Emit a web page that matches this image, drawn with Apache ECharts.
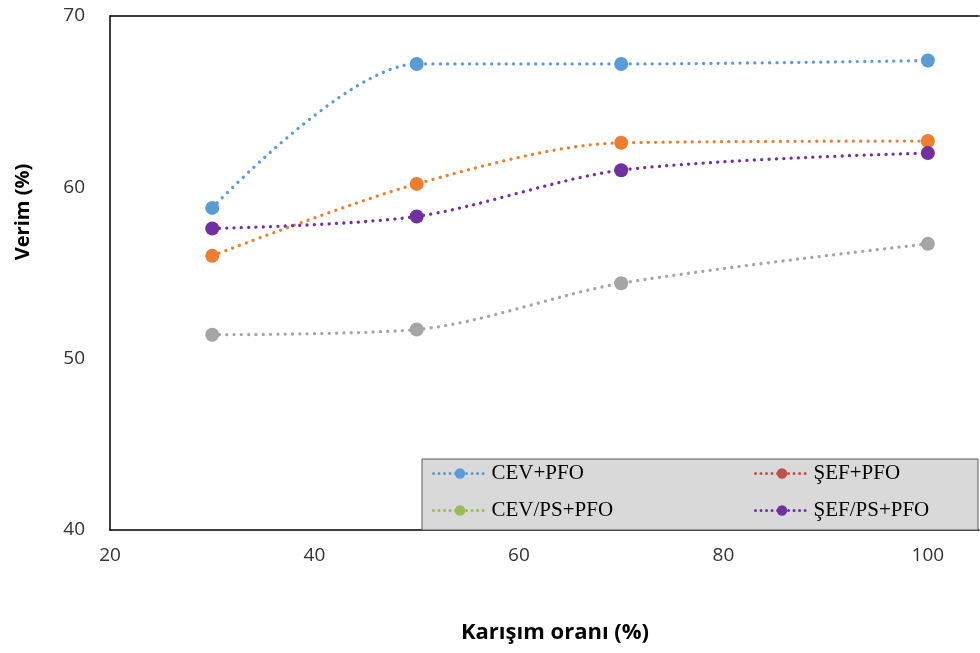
<!DOCTYPE html>
<html>
<head>
<meta charset="utf-8">
<script src="https://cdn.jsdelivr.net/npm/echarts@6/dist/echarts.min.js"></script>
<style>
  html, body { margin: 0; padding: 0; background: #fff; }
  #chart { width: 980px; height: 653px; }
</style>
</head>
<body>
<div id="chart"></div>
<script>
// Mixing ratio (%) on the x axis
const ratios = [30, 50, 70, 100];

// Yield (%) for each blend
const cevPfo = [58.8, 67.2, 67.2, 67.4];
const sefPfo = [56.0, 60.2, 62.6, 62.7];
const cevPsPfo = [51.4, 51.7, 54.4, 56.7];
const sefPsPfo = [57.6, 58.3, 61.0, 62.0];

const seriesNames = ['CEV+PFO', 'ŞEF+PFO', 'CEV/PS+PFO', 'ŞEF/PS+PFO'];
const seriesValues = [cevPfo, sefPfo, cevPsPfo, sefPsPfo];
const lineColors = ['#5B9BD5', '#ED7D31', '#A5A5A5', '#7030A0'];
const legendColors = ['#5B9BD5', '#C0504D', '#9BBB59', '#7030A0'];

const xTicks = [20, 40, 60, 80, 100];
const yTicks = [40, 50, 60, 70];

const chart = echarts.init(document.getElementById('chart'), null, { renderer: 'canvas' });

const series = seriesNames.map((name, i) => ({
  name: name,
  type: 'line',
  smooth: 0.3,
  data: ratios.map((x, j) => [x, seriesValues[i][j]]),
  symbol: 'circle',
  symbolSize: 14,
  itemStyle: { color: lineColors[i] },
  lineStyle: { color: lineColors[i], width: 3.3, type: [0.01, 7.3], cap: 'round' },
  z: 3
}));

const legendItem = (i) => ({
  name: seriesNames[i],
  itemStyle: { color: legendColors[i] },
  lineStyle: { color: legendColors[i], width: 3, type: [0.01, 5.5], cap: 'round' }
});

const legendCommon = {
  orient: 'vertical',
  itemWidth: 53,
  itemHeight: 13,
  itemGap: 16,
  textStyle: { fontFamily: 'Liberation Serif', fontSize: 21, color: '#000' },
  selectedMode: false
};

chart.setOption({
  animation: false,
  grid: { left: 110, top: 16, right: 1, bottom: 123 },
  xAxis: [{
    type: 'value',
    min: 20,
    max: 105,
    interval: 20,
    axisLine: { show: true, onZero: false, lineStyle: { color: '#000', width: 1.5 } },
    axisTick: { show: false },
    splitLine: { show: false },
    axisLabel: {
      showMaxLabel: false,
      margin: 16,
      fontFamily: 'Open Sans',
      fontSize: 19,
      color: '#333',
      formatter: v => (xTicks.indexOf(v) >= 0 ? String(v) : '')
    }
  }, {
    type: 'value',
    position: 'top',
    min: 20,
    max: 105,
    axisLine: { show: true, onZero: false, lineStyle: { color: '#000', width: 1.5 } },
    axisTick: { show: false },
    axisLabel: { show: false },
    splitLine: { show: false }
  }],
  yAxis: {
    type: 'value',
    min: 40,
    max: 70,
    interval: 10,
    axisLine: { show: true, onZero: false, lineStyle: { color: '#000', width: 1.5 } },
    axisTick: { show: false },
    splitLine: { show: false },
    axisLabel: {
      margin: 25,
      fontFamily: 'Open Sans',
      fontSize: 19,
      color: '#333',
      formatter: v => (yTicks.indexOf(v) >= 0 ? String(v) : '')
    }
  },
  graphic: [
    {
      type: 'rect',
      shape: { x: 422, y: 459, width: 556, height: 71 },
      style: { fill: '#D9D9D9', stroke: '#595959', lineWidth: 1 },
      z: 1
    },
    {
      type: 'text',
      x: 23,
      y: 212,
      rotation: Math.PI / 2,
      style: {
        text: 'Verim (%)',
        fontFamily: 'Open Sans',
        fontWeight: 'bold',
        fontSize: 20,
        fill: '#000',
        align: 'center',
        verticalAlign: 'middle'
      }
    },
    {
      type: 'text',
      x: 555,
      y: 633,
      style: {
        text: 'Karışım oranı (%)',
        fontFamily: 'Open Sans',
        fontWeight: 'bold',
        fontSize: 22,
        fill: '#000',
        align: 'center',
        verticalAlign: 'middle'
      }
    }
  ],
  legend: [
    Object.assign({ left: 427, top: 458, data: [legendItem(0), legendItem(2)] }, legendCommon),
    Object.assign({ left: 749, top: 458, data: [legendItem(1), legendItem(3)] }, legendCommon)
  ],
  series: series
});
</script>
</body>
</html>
